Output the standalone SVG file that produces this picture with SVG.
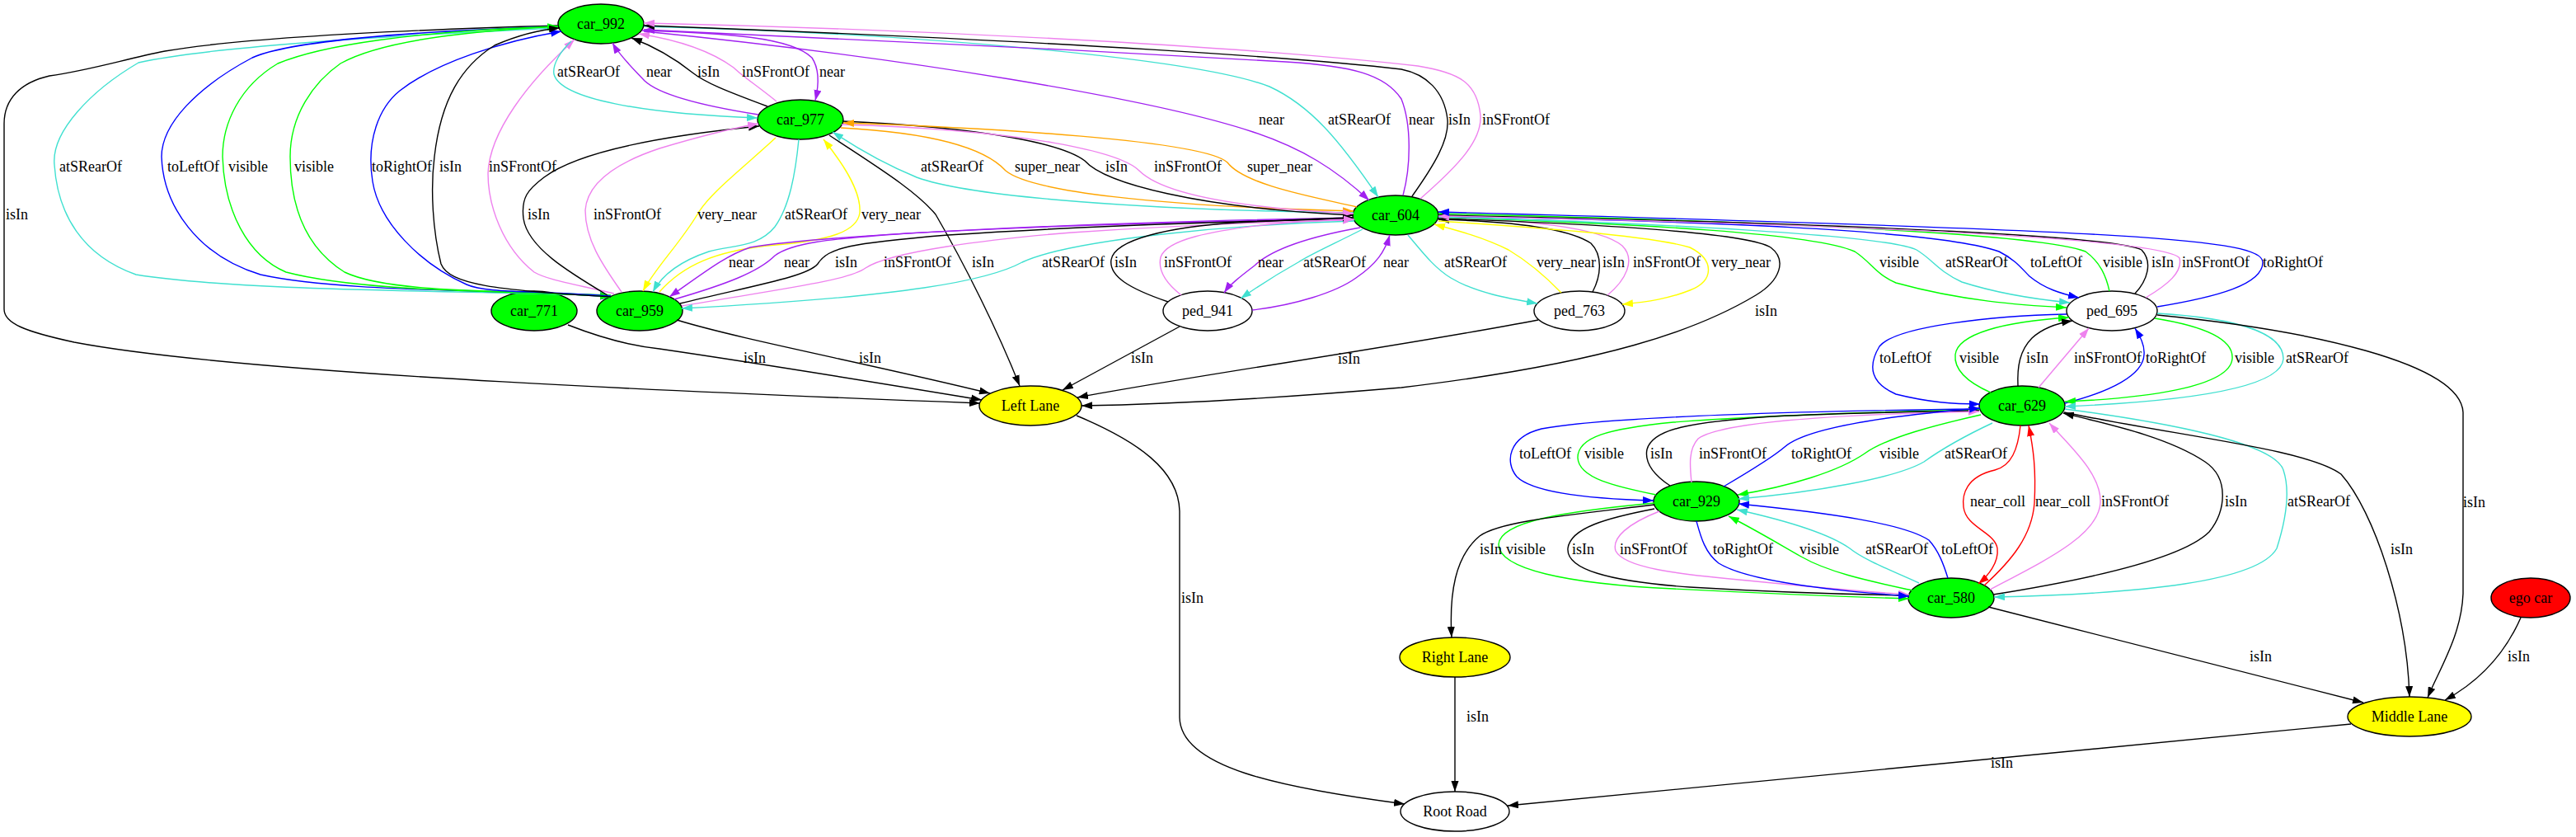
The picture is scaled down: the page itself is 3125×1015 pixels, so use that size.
<svg xmlns="http://www.w3.org/2000/svg" width="3125" height="1015" viewBox="0 0 3125 1015">
<style>
text{font-family:"Liberation Serif","Times New Roman",serif;font-size:18px;fill:#000}
.n text{text-anchor:middle}
.n ellipse{stroke:#000;stroke-width:1.4}
.g{fill:#00ff00}.y{fill:#ffff00}.w{fill:#ffffff}.r{fill:#ff0000}
#edges path{fill:none;stroke-width:1.4}
.k{stroke:#000000;marker-end:url(#ak)}
.c{stroke:#40e0d0;marker-end:url(#ac)}
.b{stroke:#0000ff;marker-end:url(#ab)}
.gr{stroke:#00ff00;marker-end:url(#ag)}
.v{stroke:#ee82ee;marker-end:url(#av)}
.p{stroke:#a020f0;marker-end:url(#ap)}
.ye{stroke:#ffff00;marker-end:url(#ay)}
.o{stroke:#ffa500;marker-end:url(#ao)}
.rd{stroke:#ff0000;marker-end:url(#ar)}
</style>
<defs>
<marker id="ak" viewBox="0 0 10 7" refX="10" refY="3.5" markerWidth="13" markerHeight="9.3" markerUnits="userSpaceOnUse" orient="auto"><path d="M0,0L10,3.5L0,7z" fill="#000000"/></marker>
<marker id="ac" viewBox="0 0 10 7" refX="10" refY="3.5" markerWidth="13" markerHeight="9.3" markerUnits="userSpaceOnUse" orient="auto"><path d="M0,0L10,3.5L0,7z" fill="#40e0d0"/></marker>
<marker id="ab" viewBox="0 0 10 7" refX="10" refY="3.5" markerWidth="13" markerHeight="9.3" markerUnits="userSpaceOnUse" orient="auto"><path d="M0,0L10,3.5L0,7z" fill="#0000ff"/></marker>
<marker id="ag" viewBox="0 0 10 7" refX="10" refY="3.5" markerWidth="13" markerHeight="9.3" markerUnits="userSpaceOnUse" orient="auto"><path d="M0,0L10,3.5L0,7z" fill="#00ff00"/></marker>
<marker id="av" viewBox="0 0 10 7" refX="10" refY="3.5" markerWidth="13" markerHeight="9.3" markerUnits="userSpaceOnUse" orient="auto"><path d="M0,0L10,3.5L0,7z" fill="#ee82ee"/></marker>
<marker id="ap" viewBox="0 0 10 7" refX="10" refY="3.5" markerWidth="13" markerHeight="9.3" markerUnits="userSpaceOnUse" orient="auto"><path d="M0,0L10,3.5L0,7z" fill="#a020f0"/></marker>
<marker id="ay" viewBox="0 0 10 7" refX="10" refY="3.5" markerWidth="13" markerHeight="9.3" markerUnits="userSpaceOnUse" orient="auto"><path d="M0,0L10,3.5L0,7z" fill="#ffff00"/></marker>
<marker id="ao" viewBox="0 0 10 7" refX="10" refY="3.5" markerWidth="13" markerHeight="9.3" markerUnits="userSpaceOnUse" orient="auto"><path d="M0,0L10,3.5L0,7z" fill="#ffa500"/></marker>
<marker id="ar" viewBox="0 0 10 7" refX="10" refY="3.5" markerWidth="13" markerHeight="9.3" markerUnits="userSpaceOnUse" orient="auto"><path d="M0,0L10,3.5L0,7z" fill="#ff0000"/></marker>
</defs>
<rect width="3125" height="1015" fill="#ffffff"/>
<g id="nodes">
<g id="car_992" class="n"><ellipse class="g" cx="729" cy="29" rx="52" ry="24"/><text x="729" y="35">car_992</text></g>
<g id="car_977" class="n"><ellipse class="g" cx="971" cy="145" rx="52" ry="24"/><text x="971" y="151">car_977</text></g>
<g id="car_604" class="n"><ellipse class="g" cx="1693" cy="261" rx="52" ry="24"/><text x="1693" y="267">car_604</text></g>
<g id="car_771" class="n"><ellipse class="g" cx="648" cy="377" rx="52" ry="24"/><text x="648" y="383">car_771</text></g>
<g id="car_959" class="n"><ellipse class="g" cx="776" cy="377" rx="52" ry="24"/><text x="776" y="383">car_959</text></g>
<g id="ped_941" class="n"><ellipse class="w" cx="1465" cy="377" rx="54" ry="24"/><text x="1465" y="383">ped_941</text></g>
<g id="ped_763" class="n"><ellipse class="w" cx="1916" cy="377" rx="55" ry="24"/><text x="1916" y="383">ped_763</text></g>
<g id="ped_695" class="n"><ellipse class="w" cx="2562" cy="377" rx="55" ry="24"/><text x="2562" y="383">ped_695</text></g>
<g id="left_lane" class="n"><ellipse class="y" cx="1250" cy="492" rx="62" ry="24"/><text x="1250" y="498">Left Lane</text></g>
<g id="car_629" class="n"><ellipse class="g" cx="2453" cy="492" rx="52" ry="24"/><text x="2453" y="498">car_629</text></g>
<g id="car_929" class="n"><ellipse class="g" cx="2058" cy="608" rx="52" ry="24"/><text x="2058" y="614">car_929</text></g>
<g id="car_580" class="n"><ellipse class="g" cx="2367" cy="725" rx="52" ry="24"/><text x="2367" y="731">car_580</text></g>
<g id="ego_car" class="n"><ellipse class="r" cx="3070" cy="725" rx="48" ry="24"/><text x="3070" y="731">ego car</text></g>
<g id="right_lane" class="n"><ellipse class="y" cx="1765" cy="797" rx="67" ry="24"/><text x="1765" y="803">Right Lane</text></g>
<g id="middle_lane" class="n"><ellipse class="y" cx="2923" cy="869" rx="75" ry="24"/><text x="2923" y="875">Middle Lane</text></g>
<g id="root_road" class="n"><ellipse class="w" cx="1765" cy="984" rx="66" ry="24"/><text x="1765" y="990">Root Road</text></g>
</g>
<g id="edges">
<g><path class="k" d="M677,31 C500,36 300,45 200,62 C150,72 110,85 60,92 C25,100 5,120 5,150 L5,375 C5,392 30,402 90,415 C300,455 900,478 1189,489"/><text x="7" y="266">isIn</text></g>
<g><path class="c" d="M677,34 C500,42 260,55 168,76 C110,110 62,160 66,200 C70,260 100,310 165,333 C300,355 600,352 741,359"/><text x="72" y="208">atSRearOf</text></g>
<g><path class="b" d="M677,32 C500,38 350,50 306,70 C240,105 196,150 196,190 C198,250 240,310 316,333 C420,356 620,350 741,360"/><text x="203" y="208">toLeftOf</text></g>
<g><path class="gr" d="M677,32 C500,38 390,55 337,77 C290,105 270,150 270,190 C272,255 300,310 347,330 C450,357 650,352 741,360"/><text x="277" y="208">visible</text></g>
<g><path class="gr" d="M741,358 C600,352 470,355 418,330 C370,300 352,250 352,190 C352,140 380,100 413,77 C470,45 600,36 677,32"/><text x="357" y="208">visible</text></g>
<g><path class="b" d="M741,359 C650,352 590,356 566,345 C510,320 460,270 452,220 C444,170 460,130 485,110 C530,75 610,50 681,38"/><text x="451" y="208">toRightOf</text></g>
<g><path class="k" d="M741,360 C600,352 545,345 535,320 C525,280 522,230 527,190 C535,120 560,80 600,55 C630,42 655,36 679,34"/><text x="533" y="208">isIn</text></g>
<g><path class="v" d="M745,356 C700,345 665,340 648,330 C610,300 592,250 592,210 C594,160 640,100 697,48"/><text x="593" y="208">inSFrontOf</text></g>
<g><path class="c" d="M693,50 C680,62 670,78 672,90 C680,120 780,138 919,143"/><text x="676" y="93">atSRearOf</text></g>
<g><path class="p" d="M920,139 C850,128 800,115 782,98 C768,83 752,68 743,52"/><text x="784" y="93">near</text></g>
<g><path class="k" d="M931,129 C880,110 855,100 840,88 C815,68 790,55 766,46"/><text x="846" y="93">isIn</text></g>
<g><path class="v" d="M942,123 C920,105 900,92 890,82 C860,60 820,48 775,41"/><text x="900" y="93">inSFrontOf</text></g>
<g><path class="p" d="M779,37 C880,40 960,45 985,70 C995,85 993,105 989,122"/><text x="994" y="93">near</text></g>
<g><path class="p" d="M781,38 C1100,70 1400,120 1520,160 C1580,180 1620,205 1661,243"/><text x="1527" y="151">near</text></g>
<g><path class="c" d="M781,32 C1100,40 1450,70 1540,105 C1590,128 1625,170 1672,239"/><text x="1611" y="151">atSRearOf</text></g>
<g><path class="p" d="M1702,237 C1712,200 1712,150 1700,120 C1680,90 1640,80 1560,75 C1300,60 1000,45 781,36"/><text x="1709" y="151">near</text></g>
<g><path class="k" d="M1713,238 C1740,200 1758,170 1756,145 C1752,110 1730,90 1700,84 C1600,72 1300,50 781,31"/><text x="1757" y="151">isIn</text></g>
<g><path class="v" d="M1723,241 C1770,200 1798,170 1796,140 C1792,100 1770,88 1720,80 C1500,55 1100,35 781,28"/><text x="1798" y="151">inSFrontOf</text></g>
<g><path class="c" d="M1642,258 C1400,255 1180,240 1112,215 C1070,198 1040,180 1010,160"/><text x="1117" y="208">atSRearOf</text></g>
<g><path class="o" d="M1020,155 C1150,162 1200,185 1220,207 C1250,232 1400,250 1642,256"/><text x="1231" y="208">super_near</text></g>
<g><path class="k" d="M1022,147 C1200,155 1290,175 1316,195 C1340,222 1450,252 1642,261"/><text x="1341" y="208">isIn</text></g>
<g><path class="v" d="M1021,151 C1250,158 1360,185 1382,207 C1410,235 1500,252 1642,259"/><text x="1400" y="208">inSFrontOf</text></g>
<g><path class="o" d="M1646,251 C1600,240 1510,225 1489,197 C1460,170 1200,155 1023,149"/><text x="1513" y="208">super_near</text></g>
<g><path class="ye" d="M941,167 C900,205 860,235 846,260 C825,295 795,325 780,353"/><text x="846" y="266">very_near</text></g>
<g><path class="c" d="M969,169 C965,210 958,250 940,275 C920,300 890,297 860,305 C830,315 805,330 792,354"/><text x="952" y="266">atSRearOf</text></g>
<g><path class="ye" d="M800,354 C830,320 870,305 930,298 C1010,292 1040,280 1043,258 C1045,230 1020,195 999,169"/><text x="1045" y="266">very_near</text></g>
<g><path class="k" d="M1006,164 C1060,200 1110,230 1135,260 C1170,320 1210,400 1237,468"/><text x="1179" y="324">isIn</text></g>
<g><path class="p" d="M1642,264 C1300,270 1000,285 910,300 C880,310 855,330 812,360"/><text x="884" y="324">near</text></g>
<g><path class="p" d="M818,363 C880,345 920,330 940,310 C960,295 1000,290 1100,283 C1300,272 1500,268 1642,265"/><text x="951" y="324">near</text></g>
<g><path class="k" d="M825,368 C920,345 980,335 992,320 C1005,300 1030,295 1150,285 C1350,272 1550,267 1642,266"/><text x="1013" y="324">isIn</text></g>
<g><path class="v" d="M827,371 C950,350 1030,340 1050,325 C1080,305 1200,290 1300,282 C1450,272 1580,268 1642,267"/><text x="1072" y="324">inSFrontOf</text></g>
<g><path class="c" d="M1643,268 C1500,272 1300,290 1240,318 C1200,340 1100,360 827,374"/><text x="1264" y="324">atSRearOf</text></g>
<g><path class="k" d="M1417,366 C1370,350 1345,335 1348,315 C1352,290 1420,275 1500,270 C1580,266 1620,264 1642,264"/><text x="1352" y="324">isIn</text></g>
<g><path class="v" d="M1433,358 C1410,340 1405,325 1408,312 C1415,290 1470,280 1540,272 C1600,267 1630,266 1643,266"/><text x="1412" y="324">inSFrontOf</text></g>
<g><path class="p" d="M1650,276 C1600,285 1545,300 1522,322 C1505,335 1492,345 1485,355"/><text x="1526" y="324">near</text></g>
<g><path class="c" d="M1653,278 C1620,295 1590,308 1575,318 C1550,332 1525,348 1505,362"/><text x="1581" y="324">atSRearOf</text></g>
<g><path class="p" d="M1519,376 C1570,370 1620,355 1645,337 C1670,320 1680,305 1686,285"/><text x="1678" y="324">near</text></g>
<g><path class="k" d="M1431,396 L1289,473"/><text x="1372" y="440">isIn</text></g>
<g><path class="c" d="M1708,285 C1725,305 1740,325 1760,337 C1790,355 1830,362 1865,368"/><text x="1752" y="324">atSRearOf</text></g>
<g><path class="ye" d="M1894,355 C1870,330 1850,315 1830,303 C1800,288 1770,280 1740,272"/><text x="1864" y="324">very_near</text></g>
<g><path class="k" d="M1932,354 C1942,335 1945,310 1930,295 C1900,275 1820,268 1745,266"/><text x="1944" y="324">isIn</text></g>
<g><path class="v" d="M1950,358 C1972,340 1985,315 1968,298 C1940,275 1850,267 1745,263"/><text x="1981" y="324">inSFrontOf</text></g>
<g><path class="ye" d="M1745,268 C1850,275 2000,285 2050,300 C2080,315 2080,340 2050,352 C2025,362 2000,366 1968,369"/><text x="2076" y="324">very_near</text></g>
<g><path class="k" d="M1745,265 C1950,272 2120,283 2148,300 C2168,315 2160,340 2130,358 C2060,400 1950,440 1700,470 C1500,487 1380,491 1312,492"/><text x="2129" y="383">isIn</text></g>
<g><path class="k" d="M1866,388 C1700,420 1450,455 1307,482"/><text x="1623" y="441">isIn</text></g>
<g><path class="gr" d="M1745,263 C2000,272 2200,283 2250,305 C2270,318 2275,332 2300,343 C2380,365 2450,370 2507,373"/><text x="2280" y="324">visible</text></g>
<g><path class="c" d="M1745,263 C2000,270 2290,285 2325,303 C2345,315 2350,328 2380,342 C2430,358 2480,364 2511,367"/><text x="2360" y="324">atSRearOf</text></g>
<g><path class="b" d="M1745,262 C2050,268 2350,278 2425,305 C2445,315 2452,325 2462,335 C2480,350 2500,356 2522,361"/><text x="2463" y="324">toLeftOf</text></g>
<g><path class="gr" d="M2559,353 C2555,335 2548,318 2530,305 C2480,285 2200,270 1745,259"/><text x="2551" y="324">visible</text></g>
<g><path class="k" d="M2590,356 C2605,340 2612,318 2598,303 C2570,288 2300,272 1745,261"/><text x="2610" y="324">isIn</text></g>
<g><path class="v" d="M2603,361 C2630,345 2648,330 2644,313 C2630,295 2400,275 1745,262"/><text x="2647" y="324">inSFrontOf</text></g>
<g><path class="b" d="M2617,372 C2690,360 2745,345 2745,318 C2745,290 2600,280 1745,257"/><text x="2745" y="324">toRightOf</text></g>
<g><path class="b" d="M2507,381 C2420,383 2300,395 2280,420 C2265,445 2270,465 2300,478 C2340,488 2370,490 2402,490"/><text x="2280" y="440">toLeftOf</text></g>
<g><path class="gr" d="M2415,476 C2390,465 2370,450 2372,430 C2375,405 2430,390 2510,385"/><text x="2377" y="440">visible</text></g>
<g><path class="k" d="M2448,468 C2447,445 2450,425 2465,410 C2478,398 2495,392 2514,389"/><text x="2458" y="440">isIn</text></g>
<g><path class="v" d="M2473,470 L2534,398"/><text x="2516" y="440">inSFrontOf</text></g>
<g><path class="b" d="M2505,489 C2560,475 2600,455 2601,430 C2602,418 2596,408 2590,398"/><text x="2603" y="440">toRightOf</text></g>
<g><path class="gr" d="M2614,386 C2670,395 2710,410 2708,435 C2705,470 2600,483 2505,487"/><text x="2711" y="440">visible</text></g>
<g><path class="c" d="M2617,380 C2700,385 2770,400 2770,435 C2768,475 2620,488 2505,493"/><text x="2773" y="440">atSRearOf</text></g>
<g><path class="k" d="M2617,382 C2800,400 2985,440 2988,500 L2988,720 C2986,770 2960,810 2945,846"/><text x="2988" y="615">isIn</text></g>
<g><path class="b" d="M2402,496 C2200,498 1950,505 1870,520 C1830,530 1825,560 1840,578 C1860,598 1930,605 2006,607"/><text x="1843" y="556">toLeftOf</text></g>
<g><path class="gr" d="M2009,600 C1960,590 1915,580 1914,555 C1914,530 1950,520 2030,512 C2150,503 2300,499 2401,497"/><text x="1922" y="556">visible</text></g>
<g><path class="k" d="M2026,589 C2005,575 1995,560 1998,545 C2005,520 2050,512 2150,505 C2250,500 2350,499 2401,498"/><text x="2002" y="556">isIn</text></g>
<g><path class="v" d="M2052,585 C2050,565 2048,545 2060,532 C2090,510 2250,502 2401,499"/><text x="2061" y="556">inSFrontOf</text></g>
<g><path class="b" d="M2091,590 C2125,570 2150,555 2165,542 C2190,520 2280,505 2402,495"/><text x="2173" y="556">toRightOf</text></g>
<g><path class="gr" d="M2403,503 C2350,515 2290,530 2262,550 C2230,572 2170,590 2108,600"/><text x="2280" y="556">visible</text></g>
<g><path class="c" d="M2417,513 C2385,528 2355,545 2334,560 C2300,580 2200,597 2109,605"/><text x="2359" y="556">atSRearOf</text></g>
<g><path class="k" d="M2007,617 C1950,628 1905,640 1902,665 C1900,690 1950,705 2050,712 C2150,718 2250,721 2316,722"/><text x="1907" y="672">isIn</text></g>
<g><path class="gr" d="M2007,610 C1900,620 1820,632 1818,660 C1818,690 1900,708 2030,714 C2150,720 2250,724 2316,726"/><text x="1827" y="672">visible</text></g>
<g><path class="v" d="M2013,620 C1975,635 1955,652 1960,668 C1970,688 2030,696 2120,704 C2200,712 2270,718 2316,721"/><text x="1965" y="672">inSFrontOf</text></g>
<g><path class="b" d="M2058,632 C2063,650 2068,670 2085,683 C2120,705 2220,716 2316,723"/><text x="2078" y="672">toRightOf</text></g>
<g><path class="gr" d="M2320,716 C2270,705 2220,695 2185,675 C2150,655 2125,640 2097,626"/><text x="2183" y="672">visible</text></g>
<g><path class="c" d="M2328,707 C2290,690 2260,678 2244,665 C2220,648 2170,632 2107,618"/><text x="2263" y="672">atSRearOf</text></g>
<g><path class="b" d="M2363,701 C2358,685 2352,668 2340,655 C2310,635 2220,622 2109,611"/><text x="2355" y="672">toLeftOf</text></g>
<g><path class="rd" d="M2451,516 C2448,545 2440,565 2420,570 C2385,578 2380,600 2382,615 C2385,640 2420,645 2423,665 C2425,682 2412,698 2400,708"/><text x="2390" y="614">near_coll</text></g>
<g><path class="rd" d="M2407,710 C2440,680 2465,650 2468,610 C2470,570 2467,545 2461,516"/><text x="2469" y="614">near_coll</text></g>
<g><path class="v" d="M2414,715 C2480,680 2545,650 2548,610 C2550,575 2510,540 2486,513"/><text x="2549" y="614">inSFrontOf</text></g>
<g><path class="k" d="M2418,721 C2550,700 2650,675 2680,645 C2700,620 2705,580 2675,560 C2630,530 2560,515 2503,501"/><text x="2699" y="614">isIn</text></g>
<g><path class="c" d="M2505,496 C2650,515 2760,540 2770,570 C2780,600 2770,640 2762,665 C2740,705 2600,720 2419,724"/><text x="2775" y="614">atSRearOf</text></g>
<g><path class="k" d="M2504,500 C2650,530 2800,545 2840,575 C2880,620 2920,740 2923,845"/><text x="2900" y="672">isIn</text></g>
<g><path class="k" d="M2412,736 L2867,852"/><text x="2729" y="802">isIn</text></g>
<g><path class="k" d="M3058,749 C3040,790 3010,825 2966,849"/><text x="3042" y="802">isIn</text></g>
<g><path class="k" d="M2852,878 L1829,977"/><text x="2415" y="931">isIn</text></g>
<g><path class="k" d="M2007,612 C1900,625 1820,632 1795,650 C1765,675 1758,720 1761,773"/><text x="1795" y="672">isIn</text></g>
<g><path class="k" d="M1306,504 C1380,535 1430,570 1431,620 L1431,870 C1432,930 1550,955 1704,975"/><text x="1433" y="731">isIn</text></g>
<g><path class="k" d="M1765,821 L1765,960"/><text x="1779" y="875">isIn</text></g>
<g><path class="k" d="M689,394 C730,410 770,420 800,423 C950,445 1100,470 1191,485"/><text x="902" y="440">isIn</text></g>
<g><path class="k" d="M821,388 C900,412 1050,440 1201,477"/><text x="1042" y="440">isIn</text></g>
<g><path class="k" d="M737,358 C690,330 640,300 635,265 C632,240 640,230 660,215 C700,185 800,165 921,153"/><text x="640" y="266">isIn</text></g>
<g><path class="v" d="M754,354 C730,320 710,290 710,255 C712,225 740,200 800,180 C840,168 880,157 920,150"/><text x="720" y="266">inSFrontOf</text></g>
</g>
</svg>
